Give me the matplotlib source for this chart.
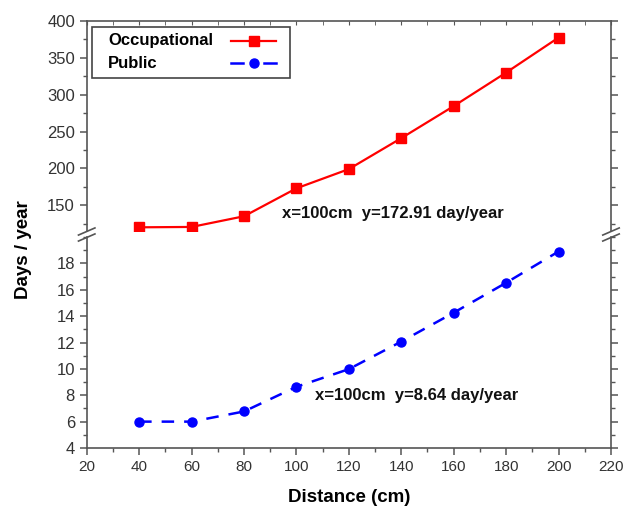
import matplotlib
matplotlib.use("Agg")
import matplotlib.pyplot as plt
from matplotlib.ticker import MultipleLocator
from matplotlib.lines import Line2D
from matplotlib.patches import Rectangle

plt.rcParams['font.family'] = ['Liberation Sans', 'DejaVu Sans']

# data
distance = [40, 60, 80, 100, 120, 140, 160, 180, 200]
occupational = [120, 120.5, 135, 172.91, 199, 241, 284.5, 330, 377.5]
public = [6.0, 6.0, 6.77, 8.64, 9.98, 12.07, 14.26, 16.53, 18.9]
series_names = ['Occupational', 'Public']

fig = plt.figure(figsize=(6.33, 5.09), dpi=100)
W, H = 633, 509


def fx(px):
    return px / W


def fy(py):
    return 1 - py / H


left, right = fx(86.7), fx(611)
ax_top = fig.add_axes([left, fy(231), right - left, (231 - 21) / H])
ax_bot = fig.add_axes([left, fy(448), right - left, (448 - 237) / H])

spine_col = '#555555'
red = '#ff0000'
blue = '#0000ff'
for ax in (ax_top, ax_bot):
    ax.set_xlim(20, 220)
    ax.xaxis.set_major_locator(MultipleLocator(20))
    ax.xaxis.set_minor_locator(MultipleLocator(10))
    for s in ax.spines.values():
        s.set_color(spine_col)
        s.set_linewidth(1.2)
    ax.tick_params(which='both', colors=spine_col, labelcolor='#333333')
    ax.tick_params(axis='y', labelsize=12)
    ax.tick_params(axis='x', labelsize=11)
    ax.tick_params(axis='y', which='major', direction='out', length=5, width=1.1,
                   right=True, labelright=False)
    ax.tick_params(axis='y', which='minor', direction='out', length=3, width=1,
                   right=True, labelright=False)

ax_top.spines['bottom'].set_visible(False)
ax_bot.spines['top'].set_visible(False)
ax_top.tick_params(axis='x', which='both', bottom=False, labelbottom=False, top=True,
                   direction='in', length=3)
ax_bot.tick_params(axis='x', which='major', direction='out', length=5, width=1.1)
ax_bot.tick_params(axis='x', which='minor', direction='out', length=3, width=1)

ax_top.set_ylim(115, 400)
ax_top.yaxis.set_major_locator(MultipleLocator(50))
ax_top.yaxis.set_minor_locator(MultipleLocator(25))
ax_bot.set_ylim(4, 20)
ax_bot.set_yticks([4, 6, 8, 10, 12, 14, 16, 18])
ax_bot.yaxis.set_minor_locator(MultipleLocator(1))

ax_top.plot(distance, occupational, color=red, lw=1.6, marker='s', ms=6.5)
ax_bot.plot(distance, public, color=blue, lw=1.8, ls=(0, (5, 4)), marker='o', ms=6.5)

ax_top.text(94.4, 139, 'x=100cm  y=172.91 day/year', fontsize=12, fontweight='bold',
            va='center', ha='left', color='#111111')
ax_bot.text(106.9, 8.0, 'x=100cm  y=8.64 day/year', fontsize=12, fontweight='bold',
            va='center', ha='left', color='#111111')

ax_bot.set_xlabel('Distance (cm)', fontsize=13.5, fontweight='bold', labelpad=11)
fig.text(fx(24), fy(250), 'Days / year', rotation=90, fontsize=13.5, fontweight='bold',
         va='center', ha='center')

# break marks on both spines
for xf in (left, right):
    for yp in (231.5, 237.5):
        y = fy(yp)
        fig.add_artist(Line2D([xf - 0.013, xf + 0.013], [y - 0.007, y + 0.007],
                              color=spine_col, lw=1.2))

# legend box: labels left, samples right
fig.add_artist(Rectangle((fx(92), fy(78)), fx(290) - fx(92), fy(27) - fy(78),
                         transform=fig.transFigure, fill=True, facecolor='white',
                         edgecolor='#444444', lw=1.2, zorder=5))

# occupational sample: solid line with square
fig.text(fx(108), fy(41), series_names[0], fontsize=12, fontweight='bold',
         va='center', ha='left', zorder=6)
fig.add_artist(Line2D([fx(231), fx(276)], [fy(41), fy(41)], color=red, lw=1.6, zorder=6))
fig.add_artist(Line2D([fx(253.5)], [fy(41)], color=red, marker='s', ms=6.5, ls='none',
                      zorder=7))

# public sample: dash - dot - dash
fig.text(fx(108), fy(63), series_names[1], fontsize=12, fontweight='bold',
         va='center', ha='left', zorder=6)
for x0, x1 in ((231, 243), (264, 276)):
    fig.add_artist(Line2D([fx(x0), fx(x1)], [fy(63), fy(63)], color=blue, lw=1.8,
                          zorder=6))
fig.add_artist(Line2D([fx(253.5)], [fy(63)], color=blue, marker='o', ms=6.5, ls='none',
                      zorder=7))

fig.savefig('out.png', dpi=100)
